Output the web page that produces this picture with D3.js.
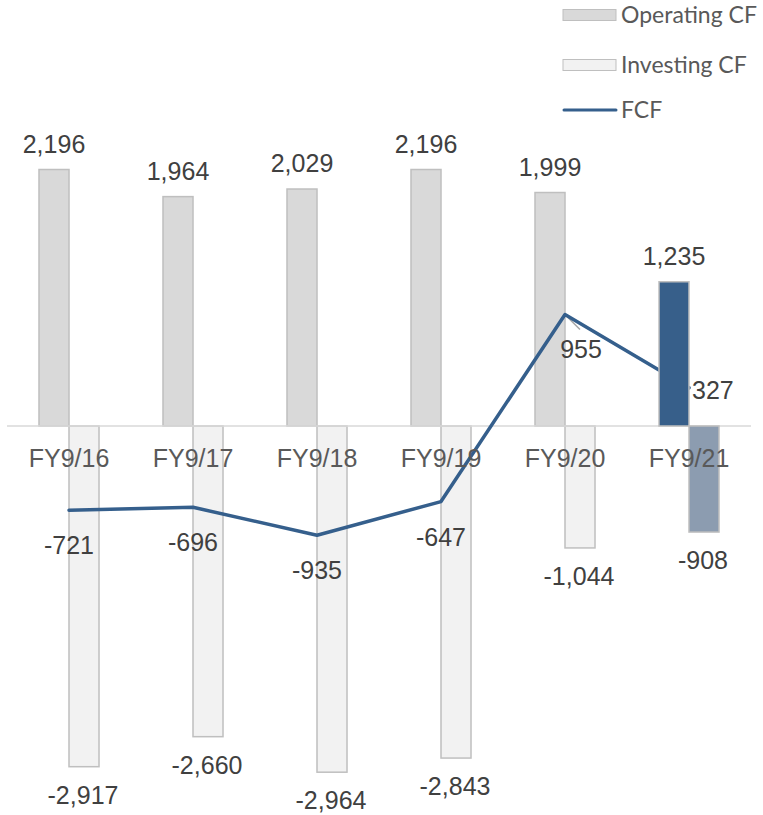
<!DOCTYPE html>
<html>
<head>
<meta charset="utf-8">
<script src="https://cdn.jsdelivr.net/npm/d3@7"></script>
<style>
  html, body { margin: 0; padding: 0; background: #fff; }
  svg { display: block; }
  text { font-family: 'Liberation Sans', Arial, sans-serif; fill: #404040; }
</style>
</head>
<body>
<svg></svg>
<script>
// data
var categories = ['FY9/16', 'FY9/17', 'FY9/18', 'FY9/19', 'FY9/20', 'FY9/21']
var operatingCF = [2196, 1964, 2029, 2196, 1999, 1235]
var investingCF = [-2917, -2660, -2964, -2843, -1044, -908]
var fcf = [-721, -696, -935, -647, 955, 327]
var seriesNames = ['Operating CF', 'Investing CF', 'FCF']

// settings
var w = 763
var h = 815
var highlight = 'FY9/21'

var svg = d3.select('svg')
    .attr('width', w)
    .attr('height', h)

var x = d3.scaleBand()
    .domain(categories)
    .range([7, 751])

var barW = 30
var cx = function (c) { return x(c) + x.bandwidth() / 2 }

var k = 0.1168
var y = d3.scaleLinear()
    .domain([-3000, 2500])
    .range([426 + 3000 * k, 426 - 2500 * k])

// plain hyphen for negatives, comma thousands
var fmt = d3.formatLocale({
  decimal: '.', thousands: ',', grouping: [3], currency: ['', ''], minus: '-'
}).format(',')

var rows = categories.map(function (c, i) {
  return { cat: c, op: operatingCF[i], inv: investingCF[i], fcf: fcf[i], hi: c === highlight }
})

function drawBars (sel) {
  sel.append('rect')
    .attr('x', function (d) { return cx(d.cat) - barW })
    .attr('y', function (d) { return y(d.op) })
    .attr('width', barW)
    .attr('height', function (d) { return y(0) - y(d.op) })
    .attr('fill', function (d) { return d.hi ? '#375f8a' : '#d9d9d9' })
    .attr('stroke', '#bfbfbf')
    .attr('stroke-width', 1.5)

  sel.append('rect')
    .attr('x', function (d) { return cx(d.cat) })
    .attr('y', y(0))
    .attr('width', barW)
    .attr('height', function (d) { return y(d.inv) - y(0) })
    .attr('fill', function (d) { return d.hi ? '#8c9cb0' : '#f2f2f2' })
    .attr('stroke', '#bfbfbf')
    .attr('stroke-width', 1.5)
}

// ordinary bars
var gBars = svg.append('g')
drawBars(gBars.selectAll('g.bar')
  .data(rows.filter(function (d) { return !d.hi }))
  .enter().append('g').attr('class', 'bar'))

// zero line
svg.append('line')
  .attr('x1', x.range()[0])
  .attr('x2', x.range()[1])
  .attr('y1', y(0))
  .attr('y2', y(0))
  .attr('stroke', '#d9d9d9')
  .attr('stroke-width', 1.5)

// leader line for the moved 955 label
svg.append('line')
  .attr('x1', cx('FY9/20'))
  .attr('y1', y(955))
  .attr('x2', cx('FY9/20') + 15)
  .attr('y2', y(955) + 15)
  .attr('stroke', '#a6a6a6')
  .attr('stroke-width', 1.5)

// FCF line
var line = d3.line()
    .x(function (d) { return cx(d.cat) })
    .y(function (d) { return y(d.fcf) })

svg.append('path')
  .datum(rows)
  .attr('d', line)
  .attr('fill', 'none')
  .attr('stroke', '#355f8c')
  .attr('stroke-width', 3.5)
  .attr('stroke-linecap', 'round')
  .attr('stroke-linejoin', 'round')

// highlighted year bars on top of the line
drawBars(svg.append('g').selectAll('g.bar')
  .data(rows.filter(function (d) { return d.hi }))
  .enter().append('g').attr('class', 'bar'))

// category labels
svg.append('g').selectAll('text')
  .data(categories)
  .enter().append('text')
  .attr('x', function (d) { return cx(d) })
  .attr('y', 467)
  .attr('text-anchor', 'middle')
  .style('font-size', '25px')
  .style('fill', '#595959')
  .text(function (d) { return d })

// value labels
var gl = svg.append('g').style('font-size', '25px')

gl.selectAll('text.op')
  .data(rows)
  .enter().append('text')
  .attr('x', function (d) { return cx(d.cat) - barW / 2 })
  .attr('y', function (d) { return y(d.op) - 17 })
  .attr('text-anchor', 'middle')
  .text(function (d) { return fmt(d.op) })

gl.selectAll('text.inv')
  .data(rows)
  .enter().append('text')
  .attr('x', function (d) { return cx(d.cat) + barW / 2 - 1 })
  .attr('y', function (d) { return y(d.inv) + 37 })
  .attr('text-anchor', 'middle')
  .text(function (d) { return fmt(d.inv) })

gl.selectAll('text.fcf')
  .data(rows)
  .enter().append('text')
  .attr('x', function (d) {
    if (d.fcf === 955) return cx(d.cat) + 16
    if (d.hi) return cx(d.cat) + 3
    return cx(d.cat)
  })
  .attr('y', function (d) { return y(d.fcf) + (d.hi ? 11 : 44) })
  .attr('text-anchor', function (d) { return d.hi ? 'start' : 'middle' })
  .text(function (d) { return fmt(d.fcf) })

// legend
var legend = svg.append('g')
var ly = [15, 65, 110]

legend.selectAll('rect')
  .data(seriesNames.slice(0, 2))
  .enter().append('rect')
  .attr('x', 563)
  .attr('y', function (d, i) { return ly[i] - 5.5 })
  .attr('width', 53)
  .attr('height', 11)
  .attr('fill', function (d, i) { return i === 0 ? '#d9d9d9' : '#f2f2f2' })
  .attr('stroke', '#bfbfbf')
  .attr('stroke-width', 1)

legend.append('line')
  .attr('x1', 564)
  .attr('x2', 616)
  .attr('y1', ly[2])
  .attr('y2', ly[2])
  .attr('stroke', '#355f8c')
  .attr('stroke-width', 3)
  .attr('stroke-linecap', 'round')

legend.selectAll('text')
  .data(seriesNames)
  .enter().append('text')
  .attr('x', 621)
  .attr('y', function (d, i) { return ly[i] + 8 })
  .style('font-family', 'Lato, sans-serif')
  .style('font-size', '23px')
  .style('fill', '#595959')
  .text(function (d) { return d })
</script>
</body>
</html>
